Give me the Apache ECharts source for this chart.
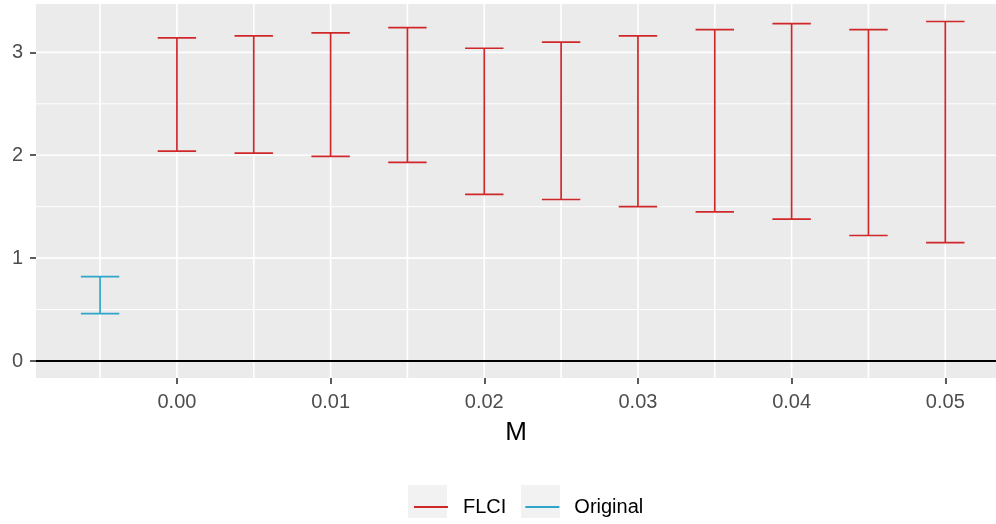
<!DOCTYPE html>
<html>
<head>
<meta charset="utf-8">
<script src="https://cdn.jsdelivr.net/npm/echarts@6/dist/echarts.min.js"></script>
<style>
  html, body { margin: 0; padding: 0; background: #fff; }
  #chart { width: 996px; height: 524px; }
</style>
</head>
<body>
<div id="chart"></div>
<script>
// error bars: M, lower, upper
var mValues = [0, 0.005, 0.01, 0.015, 0.02, 0.025, 0.03, 0.035, 0.04, 0.045, 0.05];
var flciLower = [2.04, 2.02, 1.99, 1.93, 1.62, 1.57, 1.50, 1.45, 1.38, 1.22, 1.15];
var flciUpper = [3.14, 3.16, 3.19, 3.24, 3.04, 3.10, 3.16, 3.22, 3.28, 3.22, 3.30];
var origM = [-0.005];
var origLower = [0.46];
var origUpper = [0.82];

// axis ticks and grid lines
var xTicks = [0, 0.01, 0.02, 0.03, 0.04, 0.05];
var xMinor = [-0.005, 0.005, 0.015, 0.025, 0.035, 0.045];
var yTicks = [0, 1, 2, 3];
var yMinor = [0.5, 1.5, 2.5];

var halfWidth = 0.00125;
var FONT = '"Liberation Sans", Arial, sans-serif';

function zip3(a, b, c) {
    return a.map(function (v, i) { return [v, b[i], c[i]]; });
}

function errorBar(color) {
    return function (params, api) {
        var x = api.value(0);
        var lo = api.coord([x, api.value(1)]);
        var hi = api.coord([x, api.value(2)]);
        var left = api.coord([x - halfWidth, 0])[0];
        var right = api.coord([x + halfWidth, 0])[0];
        var style = { stroke: color, lineWidth: 1.7 };
        return {
            type: 'group',
            children: [
                { type: 'line', shape: { x1: lo[0], y1: lo[1], x2: hi[0], y2: hi[1] }, style: style },
                { type: 'line', shape: { x1: left, y1: hi[1], x2: right, y2: hi[1] }, style: style },
                { type: 'line', shape: { x1: left, y1: lo[1], x2: right, y2: lo[1] }, style: style }
            ]
        };
    };
}

function gridLines(isX, width, color) {
    return function (params, api) {
        var cs = params.coordSys;
        var v = api.value(0);
        var shape;
        if (isX) {
            var px = api.coord([v, 0])[0];
            shape = { x1: px, y1: cs.y, x2: px, y2: cs.y + cs.height };
        } else {
            var py = api.coord([0, v])[1];
            shape = { x1: cs.x, y1: py, x2: cs.x + cs.width, y2: py };
        }
        return { type: 'line', shape: shape, style: { stroke: color, lineWidth: width } };
    };
}

var red = '#D0272B';
var blue = '#2EA5C9';

var chart = echarts.init(document.getElementById('chart'));
chart.setOption({
    animation: false,
    textStyle: { fontFamily: FONT },
    grid: {
        left: 36, right: 0, top: 4, bottom: 146,
        show: true, backgroundColor: '#EBEBEB', borderWidth: 0
    },
    xAxis: {
        type: 'value',
        min: -0.00917,
        max: 0.0533,
        name: 'M',
        nameLocation: 'middle',
        nameGap: 42,
        nameTextStyle: { color: '#000', fontSize: 26, fontFamily: FONT },
        axisLine: { show: false, onZero: false },
        axisTick: { show: true, length: 6, customValues: xTicks, lineStyle: { color: '#333', width: 1.6 } },
        axisLabel: {
            customValues: xTicks, margin: 14, color: '#4D4D4D', fontSize: 20, fontFamily: FONT,
            formatter: function (v) { return v.toFixed(2); }
        },
        splitLine: { show: false }
    },
    yAxis: {
        type: 'value',
        min: -0.165,
        max: 3.47,
        axisLine: { show: false, onZero: false },
        axisTick: { show: true, length: 6, customValues: yTicks, lineStyle: { color: '#333', width: 1.6 } },
        axisLabel: { customValues: yTicks, margin: 13, color: '#4D4D4D', fontSize: 20, fontFamily: FONT },
        splitLine: { show: false }
    },
    legend: {
        data: ['FLCI', 'Original'],
        left: 409,
        top: 492,
        icon: 'rect',
        itemWidth: 34,
        itemHeight: 2,
        itemGap: 19,
        textStyle: { color: '#000', fontSize: 20, fontFamily: FONT, padding: [0, 0, 0, 10] }
    },
    graphic: [
        { type: 'rect', left: 408, top: 485, shape: { width: 39, height: 33 }, style: { fill: '#F2F2F2' }, z: -1 },
        { type: 'rect', left: 521, top: 485, shape: { width: 39, height: 33 }, style: { fill: '#F2F2F2' }, z: -1 }
    ],
    series: [
        { type: 'custom', name: 'ymin', silent: true, z: 1, data: yMinor.map(function (v) { return [v]; }), renderItem: gridLines(false, 1, '#FFFFFF') },
        { type: 'custom', name: 'xmin', silent: true, z: 1, data: xMinor.map(function (v) { return [v]; }), renderItem: gridLines(true, 1.6, '#FFFFFF') },
        { type: 'custom', name: 'ymaj', silent: true, z: 1, data: yTicks.map(function (v) { return [v]; }), renderItem: gridLines(false, 1.6, '#FFFFFF') },
        { type: 'custom', name: 'xmaj', silent: true, z: 1, data: xTicks.map(function (v) { return [v]; }), renderItem: gridLines(true, 1.6, '#FFFFFF') },
        { type: 'custom', name: 'hline', silent: true, z: 2, data: [[0]], renderItem: gridLines(false, 1.8, '#000000') },
        {
            type: 'custom', name: 'FLCI', z: 3,
            itemStyle: { color: red },
            data: zip3(mValues, flciLower, flciUpper),
            encode: { x: 0, y: [1, 2] },
            renderItem: errorBar(red)
        },
        {
            type: 'custom', name: 'Original', z: 3,
            itemStyle: { color: blue },
            data: zip3(origM, origLower, origUpper),
            encode: { x: 0, y: [1, 2] },
            renderItem: errorBar(blue)
        }
    ]
});
</script>
</body>
</html>
